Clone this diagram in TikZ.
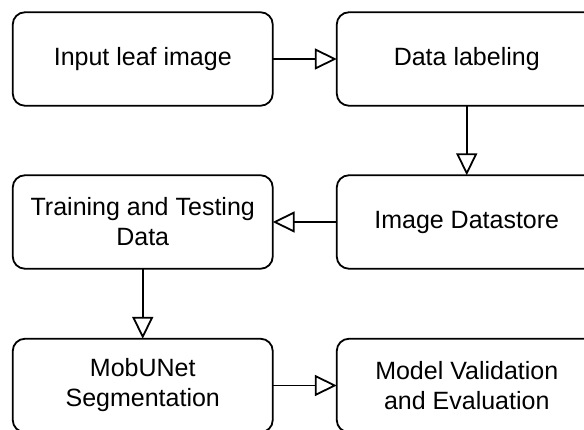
\documentclass[tikz,border=0pt]{standalone}
\usepackage{fontspec}
\setmainfont{Liberation Sans}
\usetikzlibrary{arrows.meta}
\begin{document}
\begin{tikzpicture}[x=1pt,y=-1pt,
  txt/.style={inner sep=0pt, minimum width=259.5pt, minimum height=93pt, align=center,
    font=\fontsize{25}{30}\selectfont},
  boxline/.style={draw=black, line width=1.8pt, rounded corners=12pt},
  conn/.style={draw=black, line width=1.8pt, -{Triangle[open, length=22pt, width=21pt, line width=1.8pt]}}]
\clip (0,0) rectangle (584,430);
\fill[white] (0,0) rectangle (584,430);
% left column
\node[txt] (b1) at (142.75,59) {Input leaf image};
\node[txt] (b4) at (142.75,222) {Training and Testing\\Data};
\node[txt] (b5) at (142.75,385.5) {MobUNet\\Segmentation};
% right column (boxes run past the right edge)
\node[txt] (b2) at (466.75,59) {Data labeling};
\node[txt] (b3) at (466.75,222) {Image Datastore};
\node[txt] (b6) at (466.75,385.5) {Model Validation\\and Evaluation};
\foreach \n in {b1,b2,b3,b4,b5,b6}{
  \draw[boxline] (\n.north west) rectangle (\n.south east);
}
\draw[conn] (b1.east) -- (b2.west);
\draw[conn] (b2.south) -- (b3.north);
\draw[conn] (b3.west) -- (b4.east);
\draw[conn] (b4.south) -- (b5.north);
\draw[conn] (b5.east) -- (b6.west);
\end{tikzpicture}
\end{document}
